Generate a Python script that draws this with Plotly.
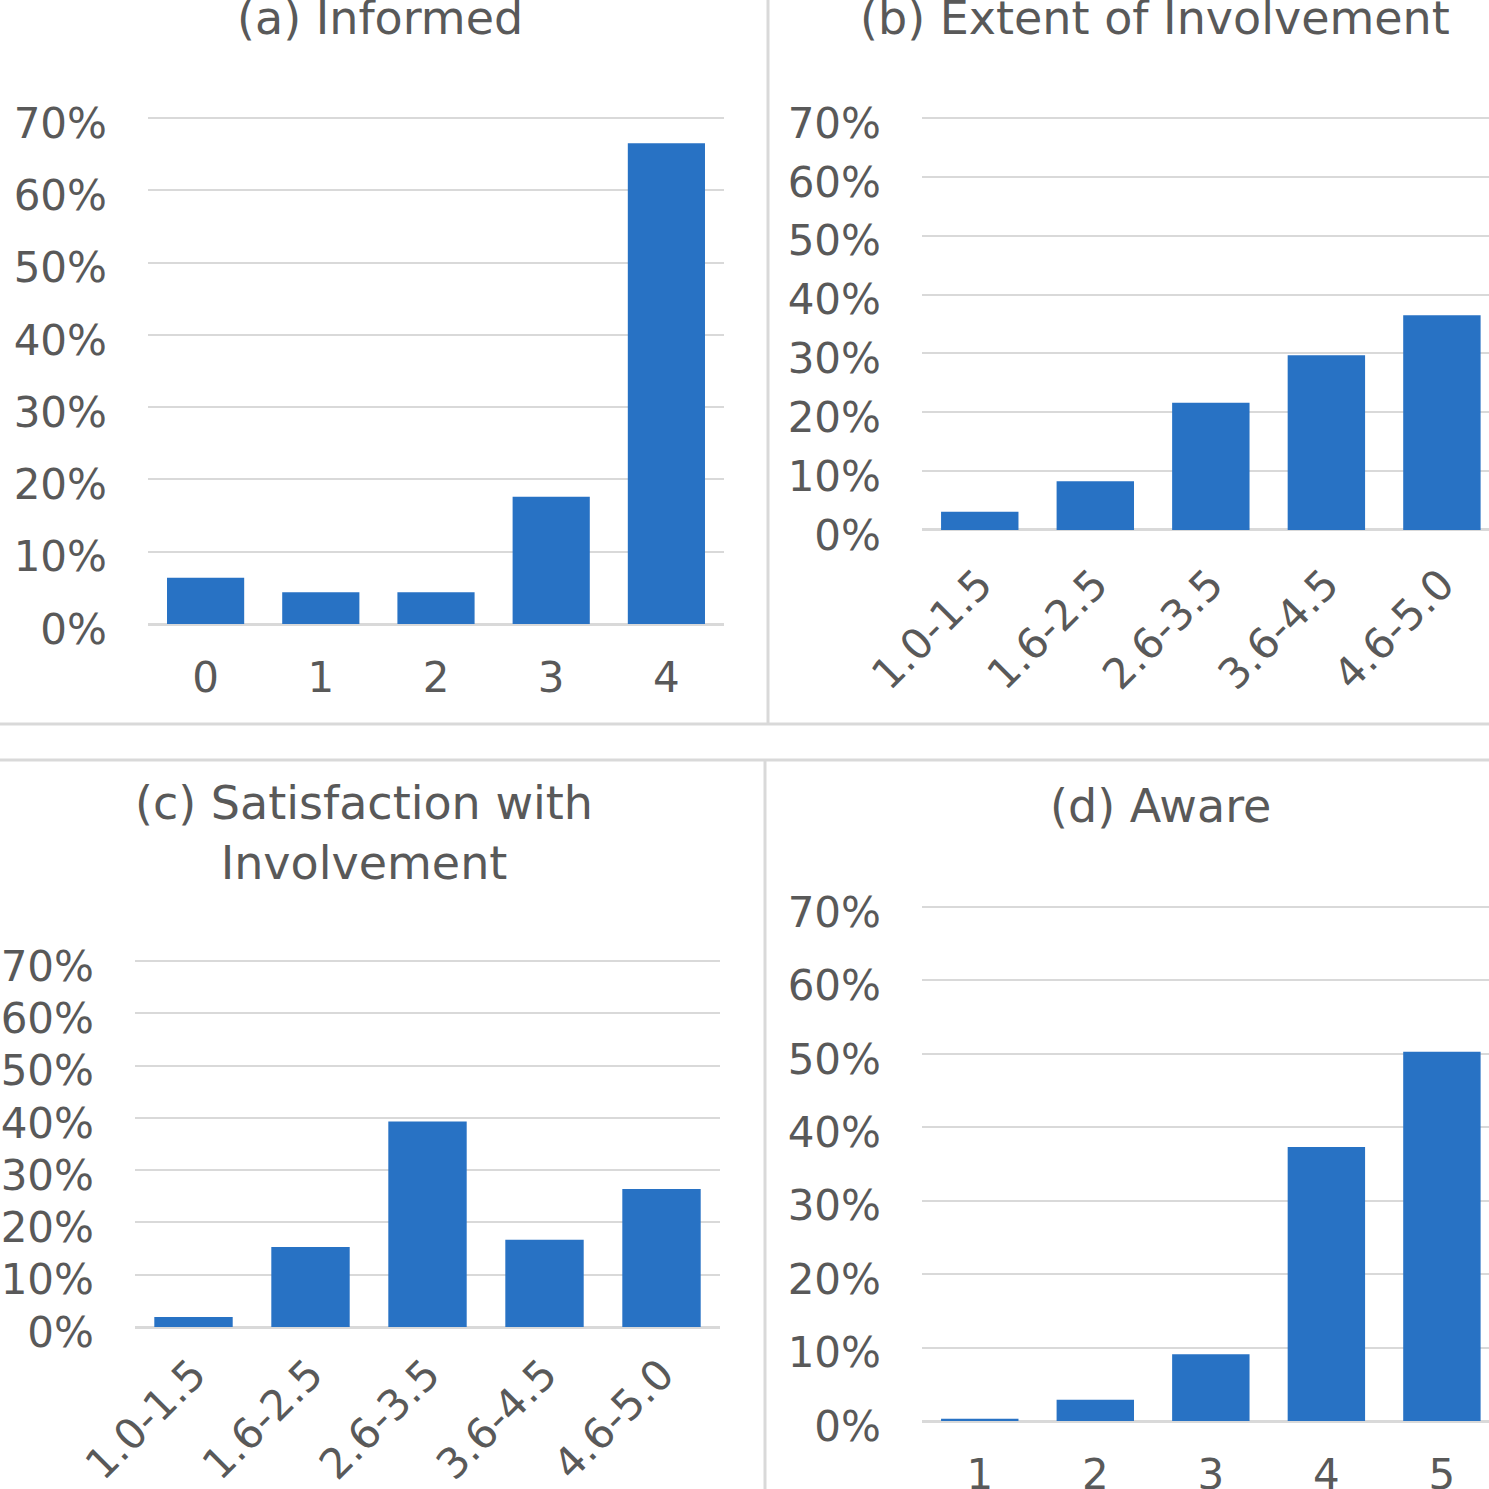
import plotly.graph_objects as go

# ---- data ----
informed_cats = ["0", "1", "2", "3", "4"]
informed_vals = [0.064, 0.044, 0.044, 0.176, 0.665]

extent_cats = ["1.0-1.5", "1.6-2.5", "2.6-3.5", "3.6-4.5", "4.6-5.0"]
extent_vals = [0.031, 0.083, 0.216, 0.297, 0.365]

satisf_cats = ["1.0-1.5", "1.6-2.5", "2.6-3.5", "3.6-4.5", "4.6-5.0"]
satisf_vals = [0.019, 0.153, 0.393, 0.167, 0.264]

aware_cats = ["1", "2", "3", "4", "5"]
aware_vals = [0.003, 0.029, 0.091, 0.373, 0.503]

titles = ["(a) Informed", "(b) Extent of Involvement",
          "(c) Satisfaction with<br>Involvement", "(d) Aware"]
y_ticks = [0, 0.1, 0.2, 0.3, 0.4, 0.5, 0.6, 0.7]

W = H = 1489
BAR = "#2872c4"
TXT = "#595959"
GRID = "#d9d9d9"
FONT = "DejaVu Sans"
YMAX = 0.72


def px(x):
    return x / W


def py(y):
    return 1 - y / H


fig = go.Figure()

# panel geometry in pixels: (x0, x1, y of 70% line, y of 0% line, xrange, x-label standoff)
panels = [
    (148, 724, 118, 624, [-0.5, 4.5], 25),
    (922, 1489, 118, 530, [-0.5, -0.5 + (1489 - 923.4) / 115.25], 20),
    (135, 720, 961, 1327, [-0.5, 4.5], 13),
    (922, 1489, 907, 1421, [-0.5, -0.5 + (1489 - 923.4) / 115.25], 25),
]
data = [
    (informed_cats, informed_vals, 0),
    (extent_cats, extent_vals, -45),
    (satisf_cats, satisf_vals, -45),
    (aware_cats, aware_vals, 0),
]

for i, ((x0, x1, y70, y0, xr, sto), (cats, vals, ang)) in enumerate(zip(panels, data)):
    n = "" if i == 0 else str(i + 1)
    ytop = y0 - (y0 - y70) * YMAX / 0.7
    fig.add_trace(go.Bar(x=cats, y=vals, marker_color=BAR, marker_line_width=0,
                         xaxis="x" + n, yaxis="y" + n, showlegend=False))
    fig.update_layout(**{
        "xaxis" + n: dict(domain=[px(x0), px(x1)], anchor="y" + n, type="category",
                          range=xr, showgrid=False, zeroline=False, showline=False,
                          automargin=False, ticks="", tickangle=ang,
                          ticklabelstandoff=sto,
                          tickfont=dict(family=FONT, size=42, color=TXT)),
        "yaxis" + n: dict(domain=[py(y0), py(ytop)], anchor="x" + n, range=[0, YMAX],
                          tickvals=y_ticks, tickformat=".0%", showgrid=True,
                          gridcolor=GRID, gridwidth=2, zeroline=True,
                          zerolinecolor=GRID, zerolinewidth=3, showline=False,
                          automargin=False, ticks="", ticklabelstandoff=40,
                          ticklabelshift=5,
                          tickfont=dict(family=FONT, size=42, color=TXT)),
    })

# titles
title_pos = [(380, 18), (1155, 18), (364, 833), (1160, 806)]
for t, (x, y) in zip(titles, title_pos):
    fig.add_annotation(text=t, x=px(x), y=py(y), xref="paper", yref="paper",
                       xanchor="center", yanchor="middle", showarrow=False,
                       font=dict(family=FONT, size=46, color=TXT))

# chart-box separators
lines = [
    (0, 724, W, 724),
    (0, 760, W, 760),
    (768, 0, 768, 724),
    (765, 760, 765, H),
]
for (a, b, c, d) in lines:
    fig.add_shape(type="line", xref="paper", yref="paper",
                  x0=px(a), y0=py(b), x1=px(c), y1=py(d),
                  line=dict(color=GRID, width=3))

fig.update_layout(template="none", width=W, height=H,
                  margin=dict(l=0, r=0, t=0, b=0, autoexpand=False),
                  paper_bgcolor="white", plot_bgcolor="white", bargap=0.33,
                  font=dict(family=FONT, color=TXT))

fig.write_html("out.html", config={"displayModeBar": False},
               post_script="document.body.style.margin='0';document.body.style.overflow='hidden';")
